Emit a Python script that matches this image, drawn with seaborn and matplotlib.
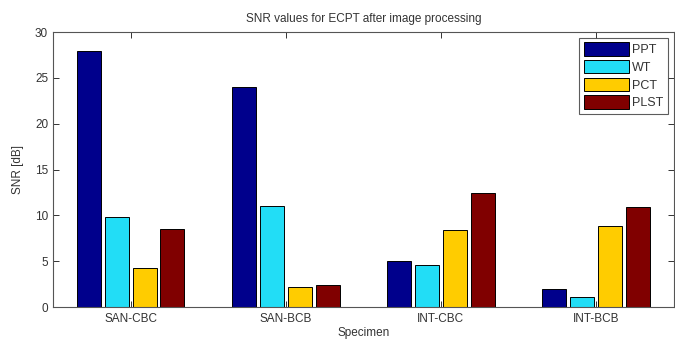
import matplotlib
matplotlib.use("Agg")
import matplotlib.pyplot as plt
import seaborn as sns
import pandas as pd

specimens = ["SAN-CBC", "SAN-BCB", "INT-CBC", "INT-BCB"]
methods = ["PPT", "WT", "PCT", "PLST"]
ppt = [27.9, 24.0, 5.0, 2.0]
wt = [9.8, 11.0, 4.6, 1.1]
pct = [4.3, 2.2, 8.4, 8.8]
plst = [8.5, 2.4, 12.4, 10.9]
colors = ["#00008C", "#22DDF6", "#FFCC00", "#800000"]

series = {"PPT": ppt, "WT": wt, "PCT": pct, "PLST": plst}
rows = []
for m in methods:
    for s, v in zip(specimens, series[m]):
        rows.append({"Specimen": s, "Method": m, "SNR": v})
df = pd.DataFrame(rows)

sns.set_theme(style="white")
plt.rcParams["font.family"] = ["Liberation Sans", "DejaVu Sans"]

fig = plt.figure(figsize=(6.75, 3.41), dpi=100)
ax = fig.add_axes([0.0785, 0.0997, 0.9195, 0.8063])

sns.barplot(data=df, x="Specimen", y="SNR", hue="Method", order=specimens,
            hue_order=methods, palette=colors, width=0.72, gap=0.14,
            edgecolor="black", linewidth=0.7, saturation=1, ax=ax)

ax.set_xlim(-0.5, 3.5)
ax.set_ylim(0, 30)
ax.set_yticks([0, 5, 10, 15, 20, 25, 30])
ax.set_yticklabels(["0", "5", "10", "15", "20", "25", "30"])

for sp in ax.spines.values():
    sp.set_color("#555555")
    sp.set_linewidth(0.8)
    sp.set_visible(True)

ax.tick_params(axis="both", direction="in", length=4, width=0.7,
               color="#333333", labelcolor="#333333", labelsize=8.5,
               top=True, right=True, bottom=True, left=True)
ax.tick_params(axis="x", pad=4)

ax.set_title("SNR values for ECPT after image processing", fontsize=8.5,
             color="#333333", pad=7)
ax.set_xlabel("Specimen", fontsize=8.5, color="#333333", labelpad=2)
ax.set_ylabel("SNR [dB]", fontsize=8.5, color="#333333", labelpad=8)

leg = ax.legend(loc="upper right", frameon=True, fontsize=9,
                handlelength=3.6, handleheight=1.3, handletextpad=0.3,
                labelspacing=0.3, borderaxespad=0.45, borderpad=0.35,
                fancybox=False, title=None)
leg.get_frame().set_edgecolor("#333333")
leg.get_frame().set_linewidth(0.8)
for t in leg.get_texts():
    t.set_color("#333333")

fig.savefig("out.png", dpi=100)
